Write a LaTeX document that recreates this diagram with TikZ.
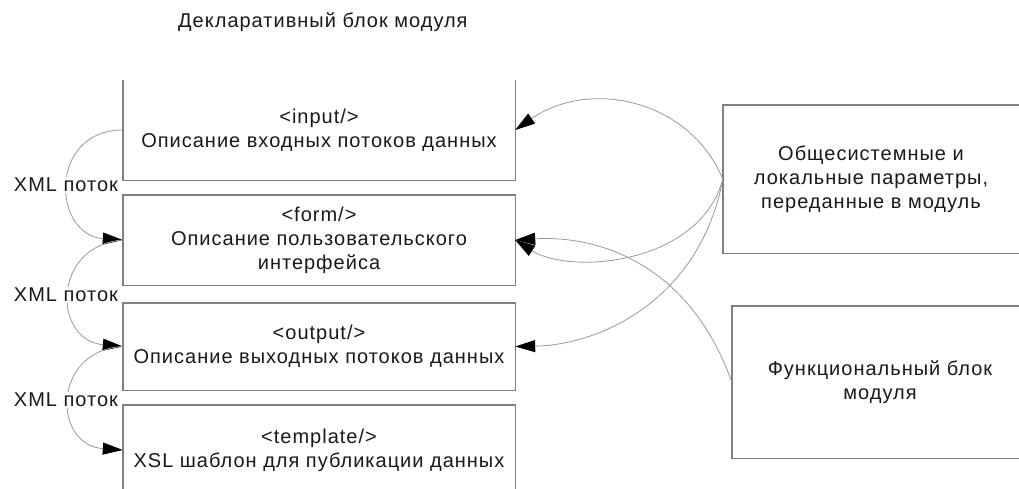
\documentclass[tikz,border=0pt]{standalone}
\usepackage{fontspec}
\setmainfont{Liberation Sans}[LetterSpace=5]
\usetikzlibrary{arrows.meta}
\begin{document}
\begin{tikzpicture}[x=1pt,y=-1pt,
  txt/.style={font=\fontsize{20}{24}\selectfont, text=black!90, align=center, inner sep=0pt},
  box/.style={txt, minimum width=392pt},
  side/.style={txt, minimum width=296pt},
  border/.style={draw=black!50, line width=1.4pt},
  link/.style={draw=black!40, line width=0.8pt},
  arr/.style={-{Triangle[length=20pt,width=12pt,black]}},
  lbl/.style={txt, fill=white, inner sep=1pt}
]
\useasboundingbox (0,0) rectangle (1019,488);
\clip (0,0) rectangle (1019,488);
\fill[white] (0,0) rectangle (1019,488);

\node[txt, anchor=west] (title) at (178,22) {Декларативный блок модуля};

\node[box, minimum height=100pt] (b1) at (319,130) {<input/>\\Описание входных потоков данных};
\node[box, minimum height=90pt] (b2) at (319,240) {<form/>\\Описание пользовательского\\интерфейса};
\node[box, minimum height=87pt] (b3) at (319,346.5) {<output/>\\Описание выходных потоков данных};
\node[box, minimum height=90pt] (b4) at (319,450) {<template/>\\XSL шаблон для публикации данных};

\draw[border] (b1.north west) -- (b1.south west) -- (b1.south east) -- (b1.north east);
\draw[border] (b2.south west) rectangle (b2.north east);
\draw[border] (b3.south west) rectangle (b3.north east);
\draw[border] (b4.south west) -- (b4.north west) -- (b4.north east) -- (b4.south east);

\node[side, minimum height=148pt] (A) at (871,179) {Общесистемные и\\локальные параметры,\\переданные в модуль};
\node[side, minimum height=152pt] (B) at (880,382) {Функциональный блок\\модуля};
\draw[border] (A.north east) -- (A.north west) -- (A.south west) -- (A.south east);
\draw[border] (B.north east) -- (B.north west) -- (B.south west) -- (B.south east);

\draw[link, arr] (A.west) .. controls (690,100) and (590,78) .. (b1.east);
\draw[link, arr] (A.west) .. controls (700,265) and (570,275) .. (b2.east);
\draw[link, arr] (A.west) .. controls (700,300) and (600,345) .. (b3.east);
\draw[link, arr] (B.west) .. controls (690,265) and (600,235) .. (b2.east);

\draw[link, arr] (b1.west) .. controls (48,130) and (52,235) .. (b2.west);
\draw[link, arr] (b2.west) .. controls (52,245) and (52,340) .. (b3.west);
\draw[link, arr] (b3.west) .. controls (52,350) and (52,445) .. (b4.west);

\node[lbl] (x1) at (66,185) {XML поток};
\node[lbl] (x2) at (66,295) {XML поток};
\node[lbl] (x3) at (66,400) {XML поток};
\end{tikzpicture}
\end{document}
